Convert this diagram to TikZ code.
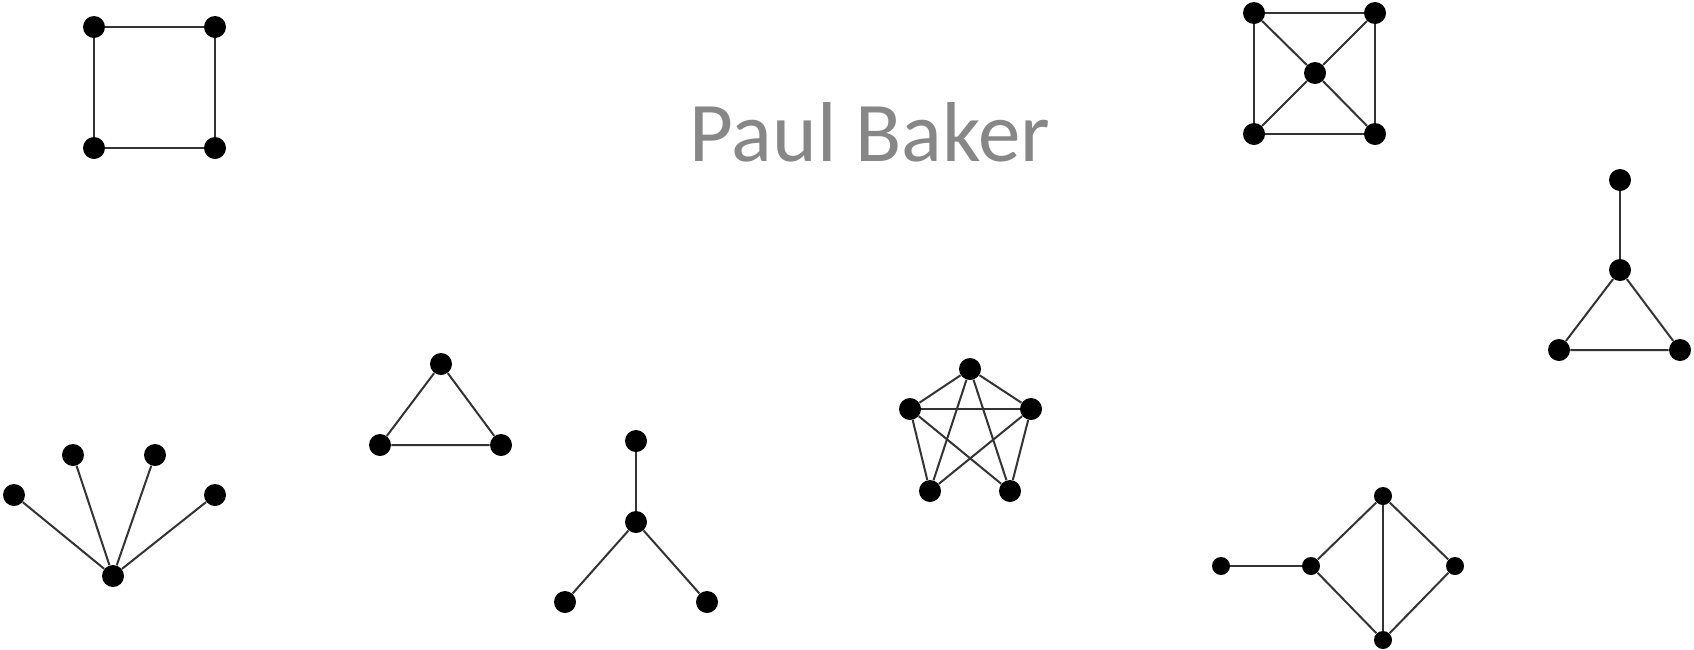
\documentclass[tikz,border=0pt]{standalone}
\usepackage{fontspec}
\setmainfont{Carlito}
\usetikzlibrary{positioning}

\begin{document}
\begin{tikzpicture}[
  x=0.5pt, y=-0.5pt,
  dot/.style={circle, fill=black, inner sep=0pt, minimum size=11pt},
  smalldot/.style={circle, fill=black, inner sep=0pt, minimum size=9pt},
  edge/.style={draw=black!80, line width=1pt},
  title/.style={font=\fontsize{42.5}{48}\selectfont, text=black!47}
]
\useasboundingbox (0,0) rectangle (1694,649);

\node[title] (name) at (870,132) {Paul Baker};

% square (cycle on four vertices)
\node[dot] (sq1) at (94,27) {};
\node[dot] (sq2) at (215,27) {};
\node[dot] (sq3) at (215,148) {};
\node[dot] (sq4) at (94,148) {};
\draw[edge] (sq1) -- (sq2) -- (sq3) -- (sq4) -- (sq1);

% wheel
\node[dot] (wh1) at (1254,13) {};
\node[dot] (wh2) at (1375,13) {};
\node[dot] (wh3) at (1375,134) {};
\node[dot] (wh4) at (1254,134) {};
\node[dot] (whc) at (1315,73) {};
\draw[edge] (wh1) -- (wh2) -- (wh3) -- (wh4) -- (wh1);
\foreach \v in {wh1,wh2,wh3,wh4}
  \draw[edge] (whc) -- (\v);

% paw
\node[dot] (pw1) at (1620,180) {};
\node[dot] (pw2) at (1620,270) {};
\node[dot] (pw3) at (1559,350) {};
\node[dot] (pw4) at (1680,350) {};
\draw[edge] (pw1) -- (pw2);
\draw[edge] (pw2) -- (pw3) -- (pw4) -- (pw2);

% star
\node[dot] (st0) at (113,576) {};
\node[dot] (st1) at (14,495) {};
\node[dot] (st2) at (73,455) {};
\node[dot] (st3) at (155,455) {};
\node[dot] (st4) at (215,495) {};
\foreach \v in {st1,st2,st3,st4}
  \draw[edge] (st0) -- (\v);

% triangle
\node[dot] (tr1) at (441,364) {};
\node[dot] (tr2) at (380,445) {};
\node[dot] (tr3) at (501,445) {};
\draw[edge] (tr1) -- (tr2) -- (tr3) -- (tr1);

% claw
\node[dot] (cl1) at (636,441) {};
\node[dot] (cl0) at (636,522) {};
\node[dot] (cl2) at (565,602) {};
\node[dot] (cl3) at (707,602) {};
\foreach \v in {cl1,cl2,cl3}
  \draw[edge] (cl0) -- (\v);

% five vertices, all edges but the bottom one
\node[dot] (kf1) at (970,369) {};
\node[dot] (kf2) at (1031,409) {};
\node[dot] (kf3) at (1010,491) {};
\node[dot] (kf4) at (930,491) {};
\node[dot] (kf5) at (910,409) {};
\foreach \a/\b in {kf1/kf2,kf1/kf3,kf1/kf4,kf1/kf5,kf2/kf3,kf2/kf4,kf2/kf5,kf3/kf5,kf4/kf5}
  \draw[edge] (\a) -- (\b);

% diamond with pendant
\node[smalldot] (dm0) at (1221,566) {};
\node[smalldot] (dm1) at (1311,566) {};
\node[smalldot] (dm2) at (1383,496) {};
\node[smalldot] (dm3) at (1455,566) {};
\node[smalldot] (dm4) at (1383,640) {};
\draw[edge] (dm0) -- (dm1);
\draw[edge] (dm1) -- (dm2) -- (dm3) -- (dm4) -- (dm1);
\draw[edge] (dm2) -- (dm4);
\end{tikzpicture}
\end{document}
